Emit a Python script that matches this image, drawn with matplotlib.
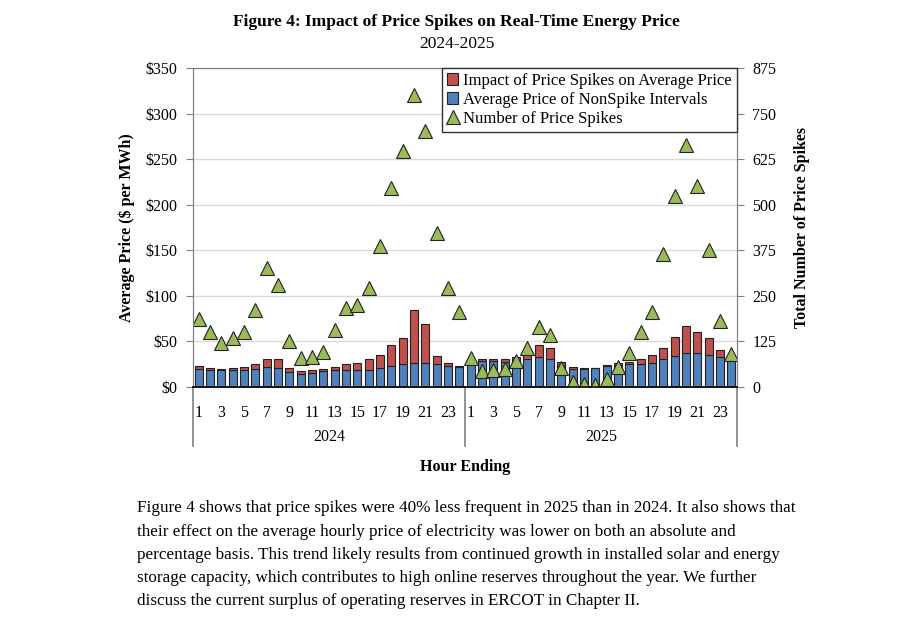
"""Figure 4: impact of price spikes on real-time energy price, 2024 vs 2025."""

import matplotlib
matplotlib.use("Agg")
import matplotlib.pyplot as plt
import numpy as np

plt.rcParams["font.family"] = ["Liberation Serif", "DejaVu Serif"]

years = ["2024", "2025"]
hours = list(range(1, 25))

# average price of non-spike intervals ($/MWh), hour ending 1-24
nonspike_2024 = [20, 18.2, 18.2, 18.2, 18.9, 20, 21.8, 21.1, 16.4, 14.5, 15.6, 17.1,
                 18.2, 18.2, 18.9, 18.9, 21.1, 22.9, 25.5, 26.5, 26.5, 25.1, 23.3, 22.2]
nonspike_2025 = [25.2, 28.5, 28.5, 27.7, 28.5, 30.3, 32.9, 30.3, 23, 20, 20, 21,
                 23, 23.7, 24.8, 24.8, 26.6, 30.3, 34, 37.6, 36.9, 35.4, 33.2, 29.2]
# total average price including spikes ($/MWh)
total_2024 = [22.9, 21.1, 20, 20.7, 21.8, 25.5, 30.9, 30.2, 21.1, 17.1, 18.2, 19.3,
              21.5, 25.5, 26.2, 30.9, 35.6, 46.5, 53.8, 84.7, 69.1, 33.5, 26.5, 23.3]
total_2025 = [25.8, 30.3, 30.3, 30.3, 32.5, 35.8, 46, 43, 27.4, 22.3, 20.8, 21.3,
              23.8, 26, 27.4, 30.3, 35, 43, 55, 66.8, 60.6, 53.3, 40.2, 30.3]
# number of price spikes
spikes_2024 = [186, 150, 120, 134, 152, 212, 327, 279, 127, 79, 81, 97,
               157, 218, 225, 271, 388, 546, 648, 802, 702, 423, 271, 205]
spikes_2025 = [79, 45, 47, 50, 70, 106, 165, 144, 52, 15, 9, 6,
               23, 55, 93, 152, 205, 366, 525, 665, 552, 377, 180, 91]

nonspike = np.array(nonspike_2024 + nonspike_2025)
impact = np.array(total_2024 + total_2025) - nonspike
spikes = np.array(spikes_2024 + spikes_2025)
x = np.arange(len(nonspike))

blue = "#4F81BD"
red = "#C0504D"
green = "#9BBB59"
edge = "#222222"
axis_grey = "#7f7f7f"

fig = plt.figure(figsize=(9.13, 6.22), dpi=100)
ax = fig.add_axes([193 / 913, 1 - 387 / 622, 544 / 913, 319 / 622])
ax2 = ax.twinx()

ax.set_axisbelow(True)
ax.grid(axis="y", color="#d9d9d9", linewidth=1)
b_blue = ax.bar(x, nonspike, width=0.72, color=blue, edgecolor=edge, linewidth=0.8,
                label="Average Price of NonSpike Intervals")
b_red = ax.bar(x, impact, bottom=nonspike, width=0.72, color=red, edgecolor=edge,
               linewidth=0.8, label="Impact of Price Spikes on Average Price")
tri, = ax2.plot(x, spikes, linestyle="none", marker="^", markersize=10.5,
                markerfacecolor=green, markeredgecolor=edge, markeredgewidth=0.8,
                label="Number of Price Spikes")

ax.set_xlim(-0.5, len(x) - 0.5)
ax.set_ylim(0, 350)
ax.set_yticks(np.arange(0, 351, 50))
ax.set_yticklabels([f"${v}" for v in range(0, 351, 50)])
ax2.set_ylim(0, 875)
ax2.set_yticks(np.arange(0, 876, 125))

ax.set_xticks(x[::2])
ax.set_xticklabels([str(h) for h in hours[::2]] * 2)
ax.tick_params(axis="x", length=0, pad=13, labelsize=11.5)
ax.tick_params(axis="y", direction="out", length=5, color=axis_grey, labelsize=11.5, pad=6)
ax2.tick_params(axis="y", direction="out", length=5, color=axis_grey, labelsize=11.5, pad=6)

for a in (ax, ax2):
    for side in ("left", "right", "top"):
        a.spines[side].set_color(axis_grey)
    a.spines["bottom"].set_color("#111111")
    a.spines["bottom"].set_linewidth(1.2)

# category separators below the axis
for xs in (-0.5, 23.5, 47.5):
    ax.axvline(xs, ymin=-0.185, ymax=0, color=axis_grey, linewidth=1.2, clip_on=False)
for i, yr in enumerate(years):
    ax.text(11.5 + 24 * i, -0.156, yr, transform=ax.get_xaxis_transform(),
            ha="center", va="center", fontsize=11.5)

ax.set_xlabel("Hour Ending", fontsize=11.5, fontweight="bold", labelpad=27)
ax.set_ylabel("Average Price ($ per MWh)", fontsize=11.5, fontweight="bold", labelpad=8)
ax2.set_ylabel("Total Number of Price Spikes", fontsize=11.5, fontweight="bold", labelpad=13)

ax2.legend(handles=[b_red, b_blue, tri], loc="upper right", bbox_to_anchor=(1, 1),
           borderaxespad=0, fancybox=False, framealpha=1, edgecolor="#333333",
           fontsize=12, handlelength=0.7, handleheight=0.7, handletextpad=0.3,
           borderpad=0.3, labelspacing=0.18)

fig.text(0.5, 1 - 22 / 622, "Figure 4: Impact of Price Spikes on Real-Time Energy Price",
         ha="center", va="center", fontsize=12.5, fontweight="bold")
fig.text(0.5, 1 - 44 / 622, "2024-2025", ha="center", va="center", fontsize=12.5)

paragraph = (
    "Figure 4 shows that price spikes were 40% less frequent in 2025 than in 2024. It also shows that\n"
    "their effect on the average hourly price of electricity was lower on both an absolute and\n"
    "percentage basis. This trend likely results from continued growth in installed solar and energy\n"
    "storage capacity, which contributes to high online reserves throughout the year. We further\n"
    "discuss the current surplus of operating reserves in ERCOT in Chapter II."
)
fig.text(137 / 913, 1 - 500.5 / 622, paragraph, ha="left", va="top", fontsize=12.3,
         linespacing=1.6)

fig.savefig("out.png", dpi=100)
plt.close(fig)
